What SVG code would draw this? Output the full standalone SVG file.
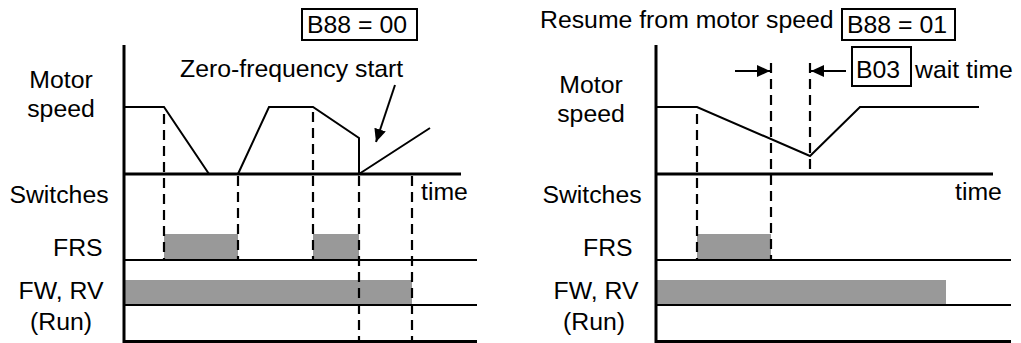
<svg xmlns="http://www.w3.org/2000/svg" width="1021" height="343" viewBox="0 0 1021 343">
<defs>
<style>
text{font-family:"Liberation Sans",Arial,sans-serif;font-size:24.8px;fill:#000}
.m{text-anchor:middle}
.ax{stroke:#000;stroke-width:3;fill:none}
.ln{stroke:#000;stroke-width:2;fill:none}
.sp{stroke:#000;stroke-width:2;fill:none;stroke-linejoin:miter}
.da{stroke:#000;stroke-width:2.2;stroke-dasharray:10 6;fill:none}
.bar{fill:#999999}
.box{fill:none;stroke:#000;stroke-width:2}
</style>
<marker id="ah" viewBox="0 0 13 12" refX="13" refY="6" markerWidth="13" markerHeight="12" markerUnits="userSpaceOnUse" orient="auto">
<path d="M0,0 L13,6 L0,12 z" fill="#000"/>
</marker>
</defs>

<g id="left-panel">
<g id="left-labels">
<text class="m" x="61" y="88">Motor</text>
<text class="m" x="61" y="117">speed</text>
<text class="m" x="59" y="203">Switches</text>
<text x="53" y="256">FRS</text>
<text class="m" x="61" y="299">FW, RV</text>
<text class="m" x="61" y="330">(Run)</text>
<text x="421" y="200">time</text>
<text x="180" y="77">Zero-frequency start</text>
</g>
<g id="left-b88">
<rect class="box" x="302" y="9" width="115" height="31"/>
<text x="307" y="33">B88 = 00</text>
</g>
<g id="left-bars">
<rect class="bar" x="164" y="234" width="74" height="26"/>
<rect class="bar" x="313" y="234" width="46" height="26"/>
<rect class="bar" x="124" y="280" width="288" height="25"/>
</g>
<g id="left-axes">
<line class="ax" x1="124" y1="45" x2="124" y2="343"/>
<line class="ax" x1="123" y1="174" x2="461" y2="174"/>
<line class="ln" x1="124" y1="260" x2="477" y2="260"/>
<line class="ln" x1="124" y1="305" x2="477" y2="305"/>
<line class="ax" x1="123" y1="341.5" x2="477" y2="341.5"/>
</g>
<g id="left-speed">
<polyline class="sp" points="124,107 164,107 209,174"/>
<polyline class="sp" points="238,174 269,107 313,107 359,138 359,174 430,128"/>
</g>
<g id="left-dashes">
<line class="da" x1="164" y1="114" x2="164" y2="260"/>
<line class="da" x1="238" y1="176" x2="238" y2="260"/>
<line class="da" x1="313" y1="112" x2="313" y2="260"/>
<line class="da" x1="359" y1="176" x2="359" y2="342"/>
<line class="da" x1="412" y1="176" x2="412" y2="342"/>
</g>
</g>

<g id="right-panel">
<g id="right-labels">
<text class="m" x="591" y="93">Motor</text>
<text class="m" x="591" y="122">speed</text>
<text class="m" x="592" y="203">Switches</text>
<text x="583" y="256">FRS</text>
<text class="m" x="596" y="299">FW, RV</text>
<text class="m" x="594" y="330">(Run)</text>
<text x="955" y="200">time</text>
<text x="540" y="28">Resume from motor speed</text>
<text x="915" y="78">wait time</text>
</g>
<g id="right-b88">
<rect class="box" x="842" y="9" width="113" height="31"/>
<text x="847" y="33">B88 = 01</text>
</g>
<g id="right-b03">
<rect class="box" x="852" y="47" width="59" height="39"/>
<text x="856" y="78">B03</text>
</g>
<g id="right-bars">
<rect class="bar" x="697" y="234" width="74" height="26"/>
<rect class="bar" x="656" y="280" width="290" height="25"/>
</g>
<g id="right-axes">
<line class="ax" x1="656" y1="45" x2="656" y2="343"/>
<line class="ax" x1="655" y1="174" x2="993" y2="174"/>
<line class="ln" x1="656" y1="260" x2="1011" y2="260"/>
<line class="ln" x1="656" y1="305" x2="1011" y2="305"/>
<line class="ax" x1="655" y1="341.5" x2="1011" y2="341.5"/>
</g>
<g id="right-speed">
<polyline class="sp" points="656,107 697,107 810,156 860,107 979,107"/>
</g>
<g id="right-dashes">
<line class="da" x1="697" y1="114" x2="697" y2="260"/>
<line class="da" x1="771" y1="63" x2="771" y2="260"/>
<line class="da" x1="810" y1="63" x2="810" y2="174"/>
</g>
</g>

<g id="connectors">
<line class="ln" x1="395" y1="85" x2="376" y2="142" marker-end="url(#ah)"/>
<line class="ln" x1="735" y1="71" x2="770" y2="71" marker-end="url(#ah)"/>
<line class="ln" x1="846" y1="71" x2="811" y2="71" marker-end="url(#ah)"/>
</g>
</svg>
